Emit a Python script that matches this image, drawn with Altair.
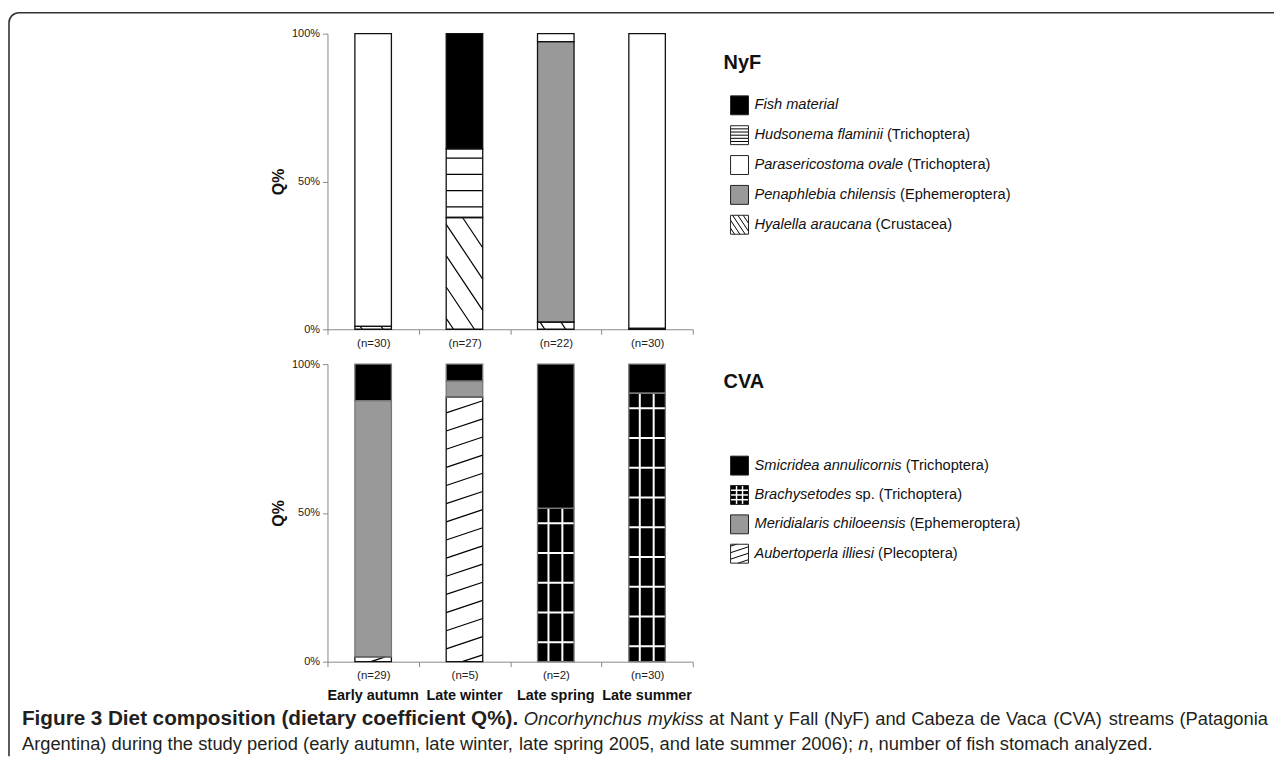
import json
import altair as alt
import pandas as pd

# ---------------- data ----------------
seasons = ["Early autumn", "Late winter", "Late spring", "Late summer"]
nyf_n = [30, 27, 22, 30]
cva_n = [29, 5, 2, 30]

# NyF stream, Q% per season, stack order bottom -> top
nyf_prey = ["Hyalella araucana", "Penaphlebia chilensis", "Parasericostoma ovale",
            "Hudsonema flaminii", "Fish material"]
nyf_hyalella = [1.0, 37.8, 2.4, 0.3]
nyf_penaphlebia = [0.0, 0.0, 94.9, 0.0]
nyf_parasericostoma = [99.0, 0.0, 2.7, 99.7]
nyf_hudsonema = [0.0, 23.2, 0.0, 0.0]
nyf_fish = [0.0, 39.0, 0.0, 0.0]

# CVA stream, Q% per season, stack order bottom -> top
cva_prey = ["Aubertoperla illiesi", "Meridialaris chiloeensis", "Brachysetodes sp.",
            "Smicridea annulicornis"]
cva_aubertoperla = [1.6, 88.9, 0.0, 0.0]
cva_meridialaris = [86.1, 5.4, 0.0, 0.0]
cva_brachysetodes = [0.0, 0.0, 51.5, 90.2]
cva_smicridea = [12.3, 5.7, 48.5, 9.8]

# legend texts (top -> bottom)
nyf_legend = ["Fish material", "Hudsonema flaminii", "Parasericostoma ovale",
              "Penaphlebia chilensis", "Hyalella araucana"]
nyf_legend_italic = ["Fish material", "Hudsonema flaminii", "Parasericostoma ovale",
                     "Penaphlebia chilensis", "Hyalella araucana"]
nyf_legend_rest = ["", "(Trichoptera)", "(Trichoptera)", "(Ephemeroptera)", "(Crustacea)"]
cva_legend = ["Smicridea annulicornis", "Brachysetodes sp.", "Meridialaris chiloeensis",
              "Aubertoperla illiesi"]
cva_legend_italic = ["Smicridea annulicornis", "Brachysetodes", "Meridialaris chiloeensis",
                     "Aubertoperla illiesi"]
cva_legend_rest = ["(Trichoptera)", "sp. (Trichoptera)", "(Ephemeroptera)", "(Plecoptera)"]

# caption: (text, style) runs; line 1 is justified, line 2 is the last line
caption_line1 = [("Figure 3 Diet composition (dietary coefficient Q%).", "bold"),
                 ("Oncorhynchus mykiss", "italic"),
                 ("at Nant y Fall (NyF) and Cabeza de Vaca (CVA) streams (Patagonia", "normal")]
caption_line2 = [("Argentina) during the study period (early autumn, late winter, late spring 2005, "
                  "and late summer 2006);", "normal"),
                 ("n,", "italic_n"),
                 ("number of fish stomach analyzed.", "normal")]

# ---------------- styles / layout ----------------
STYLE = {
    "Fish material": ("#000000", None),
    "Hudsonema flaminii": ("#ffffff", "hlines"),
    "Parasericostoma ovale": ("#ffffff", None),
    "Penaphlebia chilensis": ("#999999", None),
    "Hyalella araucana": ("#ffffff", "backslash"),
    "Smicridea annulicornis": ("#000000", None),
    "Brachysetodes sp.": ("#000000", "grid"),
    "Meridialaris chiloeensis": ("#999999", None),
    "Aubertoperla illiesi": ("#ffffff", "slash"),
}
FONT = "Liberation Sans"
W, H = 1272, 750
X_RANGE = [321, 688]
Y_TOP = [321, 24]
Y_BOT = [655, 356]
BAR_HALF = 0.2

# Arial-compatible advance widths (per 1000 em) for text layout
_UP = "ABCDEFGHIJKLMNOPQRSTUVWXYZ"
_LO = "abcdefghijklmnopqrstuvwxyz"
REG = dict(zip(_UP, [667, 667, 722, 722, 667, 611, 778, 722, 278, 500, 667, 556, 833, 722, 778,
                     667, 778, 722, 667, 611, 722, 667, 944, 667, 667, 611]))
REG.update(zip(_LO, [556, 556, 500, 556, 556, 278, 556, 556, 222, 222, 500, 222, 833, 556, 556,
                     556, 556, 333, 500, 278, 556, 500, 722, 500, 500, 500]))
REG.update({" ": 278, "%": 889, "(": 333, ")": 333, ",": 278, ".": 278, ";": 278, "=": 584})
BOLD = dict(zip(_UP, [722, 722, 722, 722, 667, 611, 778, 722, 278, 556, 722, 611, 833, 722, 778,
                      667, 778, 722, 667, 611, 722, 667, 944, 667, 667, 611]))
BOLD.update(zip(_LO, [556, 611, 556, 611, 556, 333, 611, 611, 278, 278, 556, 278, 889, 611, 611,
                      611, 611, 389, 556, 333, 611, 556, 778, 556, 556, 500]))
BOLD.update({" ": 278, "%": 889, "(": 333, ")": 333, ",": 278, ".": 278, ";": 333, "=": 584})


def em(s, bold=False):
    t = BOLD if bold else REG
    return sum(t.get(c, 556) for c in s) / 1000.0


def clip(c, s, x0, x1, lo, hi):
    """line y = c + s*(x-x0) clipped to the rectangle."""
    if s == 0:
        return (x0, c, x1, c) if lo < c < hi else None
    xa = x0 + (lo - c) / s
    xb = x0 + (hi - c) / s
    xl = max(x0, min(xa, xb))
    xr = min(x1, max(xa, xb))
    if xr <= xl:
        return None
    return (xl, c + s * (xl - x0), xr, c + s * (xr - x0))


def build_segments(series, names, dark_stroke):
    rows = []
    for i in range(len(seasons)):
        lo = 0.0
        for name, vals in zip(names, series):
            v = vals[i]
            if v <= 0:
                continue
            fill, pat = STYLE[name]
            rows.append(dict(season=seasons[i], prey=name, x0=i + 0.5 - BAR_HALF,
                             x1=i + 0.5 + BAR_HALF, lo=lo, hi=lo + v, fill=fill,
                             pattern=pat or "",
                             stroke=("#777777" if (dark_stroke and fill != "#ffffff") else "#111111")))
            lo += v
    return pd.DataFrame(rows)


def data_hatches(seg):
    out = []
    for r in seg.itertuples():
        x0, x1, lo, hi, p = r.x0, r.x1, r.lo, r.hi, r.pattern
        w = x1 - x0
        if p == "hlines":
            y = lo + 3.6
            while y < hi - 0.8:
                out.append((x0, y, x1, y, "#000000", 1.2))
                y += 5.5
        elif p == "backslash":
            s = -46.3
            c = lo + 3.7
            while c < hi - s * w:
                g = clip(c, s, x0, x1, lo, hi)
                if g:
                    out.append(g + ("#000000", 1.2))
                c += 10.6
        elif p == "slash":
            s = 10.25
            c = lo + 4.3 - 6.1
            while c < hi:
                g = clip(c, s, x0, x1, lo, hi)
                if g:
                    out.append(g + ("#000000", 1.2))
                c += 6.1
        elif p == "grid":
            for f in (0.3, 0.68):
                out.append((x0 + f * w, lo, x0 + f * w, hi, "#ffffff", 2.0))
            y = hi - 5
            while y > lo + 1:
                out.append((x0, y, x1, y, "#ffffff", 2.0))
                y -= 10
    return pd.DataFrame(out, columns=["xa", "ya", "xb", "yb", "col", "sw"])


def panel(seg, hatch, y_range, x_off, y_title, n_list, extra=None):
    xs = alt.Scale(domain=[0, 4], range=X_RANGE, nice=False, zero=False)
    ys = alt.Scale(domain=[0, 100], range=y_range, nice=False, zero=False)
    n_labels = ["(n=%d)" % n for n in n_list]
    xa = alt.Axis(values=[0, 1, 2, 3, 4], orient="bottom", offset=x_off, title=None,
                  labelExpr="datum.value < 4 ? " + json.dumps(n_labels) + "[datum.value] : ''",
                  labelOffset=46, tickSize=5, domainColor="#888888", tickColor="#888888",
                  labelColor="#222222", labelFont=FONT, labelFontSize=11.5, labelPadding=3,
                  grid=False, labelOverlap=False, labelFlush=False, labelBound=False)
    ya = alt.Axis(values=[0, 50, 100], orient="left", offset=-X_RANGE[0],
                  labelExpr="datum.value + '%'", tickSize=5, domainColor="#888888",
                  tickColor="#888888", labelColor="#222222", labelFont=FONT, labelFontSize=11,
                  labelPadding=3, grid=False, title=y_title, titleFont=FONT, titleFontSize=16,
                  titleFontWeight="bold", titleColor="#111111", titlePadding=5)

    def X(f):
        return alt.X(f + ":Q", scale=xs, axis=xa)

    def Y(f):
        return alt.Y(f + ":Q", scale=ys, axis=ya)

    fills = alt.Chart(seg).mark_rect(strokeWidth=0).encode(
        x=X("x0"), x2="x1", y=Y("lo"), y2="hi", fill=alt.Fill("fill:N", scale=None))
    hl = alt.Chart(hatch).mark_rule().encode(
        x=X("xa"), x2="xb", y=Y("ya"), y2="yb",
        stroke=alt.Stroke("col:N", scale=None), strokeWidth=alt.StrokeWidth("sw:Q", scale=None))
    outl = alt.Chart(seg).mark_rect(fillOpacity=0, strokeWidth=1.3).encode(
        x=X("x0"), x2="x1", y=Y("lo"), y2="hi", stroke=alt.Stroke("stroke:N", scale=None))
    layers = [fills, hl, outl]
    if extra is not None:
        layers.append(extra(X))
    return alt.layer(*layers)


def pxX(f):
    return alt.X(f + ":Q", scale=None, axis=None)


def pxY(f):
    return alt.Y(f + ":Q", scale=None, axis=None)


def text_layer(rows, size, weight="normal", style="normal", color="#111111"):
    return alt.Chart(pd.DataFrame(rows, columns=["x", "y", "text"])).mark_text(
        align="left", baseline="middle", font=FONT, fontSize=size, fontWeight=weight,
        fontStyle=style, color=color).encode(x=pxX("x"), y=pxY("y"), text="text:N")


def legend_layers(title, title_y, names, italics, rests, first_y, step):
    tx0, sx, sw, sh, tx, fs = 719, 726, 18, 19, 750, 14.7
    sw_rows, hatch_rows, it_rows, rg_rows = [], [], [], []
    for k, (nm, it, rs) in enumerate(zip(names, italics, rests)):
        cy = first_y + k * step
        top, bot = cy - sh / 2, cy + sh / 2
        fill, pat = STYLE[nm]
        sw_rows.append(dict(x=sx, x2=sx + sw, y=top, y2=bot, fill=fill))
        if pat == "hlines":
            for j in range(1, 6):
                hatch_rows.append((sx, top + j * sh / 6, sx + sw, top + j * sh / 6, "#000000", 1.0))
        elif pat == "backslash":
            c = top - 1.5 * sw
            while c < bot:
                g = clip(c, 1.5, sx, sx + sw, top, bot)
                if g:
                    hatch_rows.append(g + ("#000000", 1.0))
                c += 8
        elif pat == "slash":
            c = top + 2
            while c < bot + 0.33 * sw:
                g = clip(c, -0.33, sx, sx + sw, top, bot)
                if g:
                    hatch_rows.append(g + ("#000000", 1.0))
                c += 6.5
        elif pat == "grid":
            for f in (1 / 3, 2 / 3):
                hatch_rows.append((sx + f * sw, top, sx + f * sw, bot, "#ffffff", 1.5))
            for f in (0.25, 0.5, 0.75):
                hatch_rows.append((sx, top + f * sh, sx + sw, top + f * sh, "#ffffff", 1.5))
        it_rows.append((tx, cy, it))
        if rs:
            rg_rows.append((tx + fs * (em(it) + em(" ")), cy, rs))
    swdf = pd.DataFrame(sw_rows)
    hdf = pd.DataFrame(hatch_rows, columns=["xa", "ya", "xb", "yb", "col", "sw"])
    out = [
        alt.Chart(swdf).mark_rect(strokeWidth=0).encode(
            x=pxX("x"), x2="x2", y=pxY("y"), y2="y2", fill=alt.Fill("fill:N", scale=None)),
        alt.Chart(hdf).mark_rule().encode(
            x=pxX("xa"), x2="xb", y=pxY("ya"), y2="yb",
            stroke=alt.Stroke("col:N", scale=None), strokeWidth=alt.StrokeWidth("sw:Q", scale=None)),
        alt.Chart(swdf).mark_rect(fillOpacity=0, stroke="#222222", strokeWidth=1).encode(
            x=pxX("x"), x2="x2", y=pxY("y"), y2="y2"),
        text_layer([(tx0, title_y, title)], 20, weight="bold"),
        text_layer(it_rows, fs, style="italic"),
    ]
    if rg_rows:
        out.append(text_layer(rg_rows, fs))
    return out


# ---------------- build ----------------
seg_top = build_segments([nyf_hyalella, nyf_penaphlebia, nyf_parasericostoma, nyf_hudsonema, nyf_fish],
                         nyf_prey, dark_stroke=False)
seg_bot = build_segments([cva_aubertoperla, cva_meridialaris, cva_brachysetodes, cva_smicridea],
                         cva_prey, dark_stroke=True)
cat_df = pd.DataFrame({"xc": [i + 0.5 for i in range(len(seasons))], "label": seasons})


def season_labels(X):
    return alt.Chart(cat_df).mark_text(font=FONT, fontSize=14.5, fontWeight="bold",
                                       color="#111111", baseline="middle").encode(
        x=X("xc"), y=alt.value(690), text="label:N")


top = panel(seg_top, data_hatches(seg_top), Y_TOP, Y_TOP[0] - H, "Q%", nyf_n)
bot = panel(seg_bot, data_hatches(seg_bot), Y_BOT, Y_BOT[0] - H, "Q%", cva_n, extra=season_labels)

# ---- caption layout: word by word, line 1 justified ----
CAP_X, CAP_RIGHT, LINE2_RIGHT, BOLD_W = 14, 1266, 1150, 500


def words_of(line):
    ws = []
    for txt, st in line:
        for w_ in txt.split(" "):
            ws.append((w_, st))
    return ws


line2_words = words_of(caption_line2)
cap_size = (LINE2_RIGHT - CAP_X) / (sum(em(w_) for w_, _ in line2_words)
                                    + em(" ") * (len(line2_words) - 1))
bold_text = caption_line1[0][0]
bold_size = BOLD_W / em(bold_text, True)


def wwidth(word, st):
    if st == "bold":
        return bold_size * em(word, True)
    return cap_size * em(word)


cap_rows = {"bold": [], "italic": [], "normal": []}
for line, y, justify in ((caption_line1, 713, True), (caption_line2, 738, False)):
    ws = words_of(line)
    widths = [wwidth(w_, st) for w_, st in ws]
    gap = cap_size * em(" ")
    if justify:
        gap = (CAP_RIGHT - CAP_X - sum(widths)) / (len(ws) - 1)
    x = CAP_X
    for (w_, st), wd in zip(ws, widths):
        if st == "italic_n":
            cap_rows["italic"].append((x, y, "n"))
            cap_rows["normal"].append((x + cap_size * em("n"), y, ","))
        else:
            cap_rows[st].append((x, y, w_))
        x += wd + gap

caption = [
    text_layer(cap_rows["bold"], bold_size, weight="bold", color="#231f20"),
    text_layer(cap_rows["italic"], cap_size, style="italic", color="#231f20"),
    text_layer(cap_rows["normal"], cap_size, color="#231f20"),
]

frame = alt.Chart(pd.DataFrame({"k": [0]})).mark_rect(
    clip=True, fillOpacity=0, stroke="#333333", strokeWidth=1.6, cornerRadius=10).encode(
    x=alt.value(1), x2=alt.value(W + 40), y=alt.value(3), y2=alt.value(H + 40))

legends = (legend_layers("NyF", 54, nyf_legend, nyf_legend_italic, nyf_legend_rest, 96, 30)
           + legend_layers("CVA", 374, cva_legend, cva_legend_italic, cva_legend_rest, 458, 29.5))

chart = alt.layer(frame, top, bot, *legends, *caption).resolve_scale(
    x="independent", y="independent").properties(
    width=W, height=H, autosize=alt.AutoSizeParams(type="none"), padding=0,
    background="white").configure_view(stroke="transparent")

chart.save("out.html", embed_options={"renderer": "svg", "actions": False})
